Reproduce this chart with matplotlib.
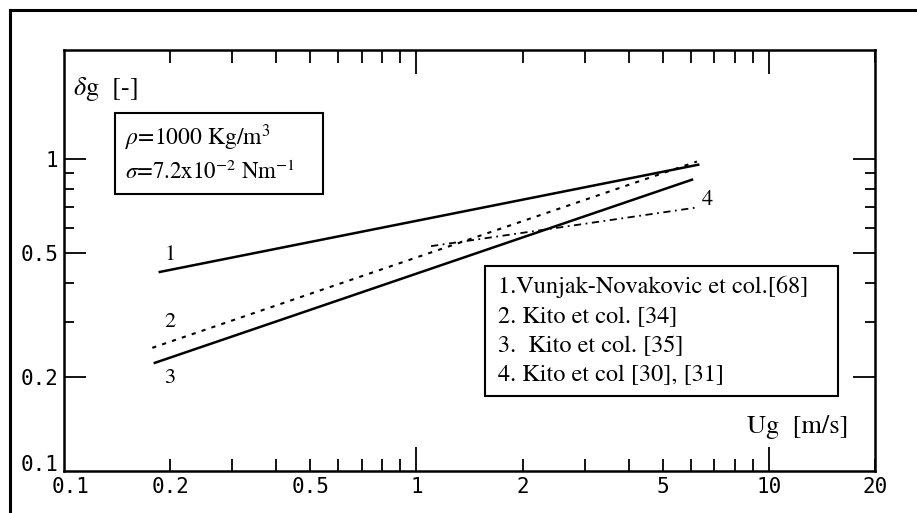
import matplotlib
matplotlib.use("Agg")
import matplotlib.pyplot as plt
from matplotlib.patches import Rectangle
from matplotlib.lines import Line2D
from matplotlib.transforms import ScaledTranslation

plt.rcParams['mathtext.fontset'] = 'stix'

# --- data (log-log, gas holdup vs superficial gas velocity)
ug_1 = [0.187, 6.3]
eg_1 = [0.434, 0.957]
ug_2 = [0.178, 6.25]
eg_2 = [0.248, 0.98]
ug_3 = [0.181, 6.05]
eg_3 = [0.222, 0.857]
ug_4 = [1.1, 6.18]
eg_4 = [0.525, 0.697]

x_ticks = [0.1, 0.2, 0.5, 1, 2, 5, 10, 20]
x_tick_labels = ['0.1', '0.2', '0.5', '1', '2', '5', '10', '20']
x_minor = [0.3, 0.4, 0.6, 0.7, 0.8, 0.9, 3, 4, 6, 7, 8, 9]
y_ticks = [0.1, 0.2, 0.5, 1]
y_tick_labels = ['0.1', '0.2', '0.5', '1']
y_minor = [0.3, 0.4, 0.6, 0.7, 0.8, 0.9]

legend_labels = ['1.Vunjak-Novakovic et col.[68]',
                 '2. Kito et col. [34]',
                 '3.  Kito et col. [35]',
                 '4. Kito et col [30], [31]']

serif = 'STIXGeneral'
mono = 'DejaVu Sans Mono'

fig = plt.figure(figsize=(9.17, 5.13), dpi=100)
ax = fig.add_axes([64 / 917, 1 - 471 / 513, 811 / 917, 421 / 513])
ax.set_xscale('log')
ax.set_yscale('log')
ax.set_xlim(0.1, 20)
ax.set_ylim(0.1, 2.23)

lw = 1.8
ax.plot(ug_1, eg_1, color='black', lw=lw)
ax.plot(ug_2, eg_2, color='black', lw=1.5, ls=(0, (2, 3)))
ax.plot(ug_3, eg_3, color='black', lw=lw)
ax.plot(ug_4, eg_4, color='black', lw=1.3, ls=(0, (4, 2.5, 1, 2.5)))

# curve numbers
for lab, xx, yy in [('1', 0.2, 0.49), ('2', 0.2, 0.30), ('3', 0.2, 0.199), ('4', 6.68, 0.739)]:
    ax.text(xx, yy, lab, fontsize=16, family=serif, ha='center', va='center')

# ticks
ax.set_xticks(x_ticks)
ax.set_xticklabels(x_tick_labels)
ax.set_xticks(x_minor, minor=True)
ax.set_yticks(y_ticks)
ax.set_yticklabels(y_tick_labels)
ax.set_yticks(y_minor, minor=True)
ax.tick_params(axis='both', which='both', direction='in', top=True, right=True,
               width=1.3, labelsize=15, pad=4)
ax.tick_params(axis='x', which='major', length=9)
ax.tick_params(axis='x', which='minor', length=9)
ax.tick_params(axis='y', which='major', length=16)
ax.tick_params(axis='y', which='minor', length=7)
for lab in ax.get_xticklabels() + ax.get_yticklabels():
    lab.set_family(mono)
# longer ticks at decades 1 and 10
for t, v in zip(ax.xaxis.get_major_ticks(), x_ticks):
    if v in (1, 10):
        t.tick1line.set_markersize(17)
        t.tick2line.set_markersize(17)
    if v == 0.1:
        t.tick1line.set_markersize(0)
        t.tick2line.set_markersize(0)
for t, v in zip(ax.yaxis.get_major_ticks(), y_ticks):
    if v == 0.1:
        t.tick1line.set_markersize(0)
        t.tick2line.set_markersize(0)

# keep the two "0.1" labels at the corner apart
xl0 = ax.get_xticklabels()[0]
xl0.set_transform(xl0.get_transform() + ScaledTranslation(7 / 100, 0, fig.dpi_scale_trans))
yl0 = ax.get_yticklabels()[0]
yl0.set_transform(yl0.get_transform() + ScaledTranslation(0, 8 / 100, fig.dpi_scale_trans))

for s in ax.spines.values():
    s.set_linewidth(1.8)

# axis titles placed inside the frame
ax.text(0.011, 0.907, r'$\delta$g  [-]', transform=ax.transAxes, fontsize=19,
        family=serif, ha='left', va='center')
ax.text(0.967, 0.105, 'Ug  [m/s]', transform=ax.transAxes, fontsize=19,
        family=serif, ha='right', va='center')

# property box
ax.add_patch(Rectangle((0.063, 0.658), 0.256, 0.192, transform=ax.transAxes,
                       fill=False, lw=1.5, ec='black'))
ax.text(0.075, 0.791, r'$\rho$=1000 Kg/m$^3$', transform=ax.transAxes,
        fontsize=17, family=serif, ha='left', va='center')
ax.text(0.075, 0.710, r'$\sigma$=7.2x10$^{-2}$ Nm$^{-1}$', transform=ax.transAxes,
        fontsize=16.5, family=serif, ha='left', va='center')

# legend box
ax.add_patch(Rectangle((0.519, 0.178), 0.435, 0.309, transform=ax.transAxes,
                       fill=False, lw=1.5, ec='black'))
row_y = [0.437, 0.365, 0.295, 0.228]
for lab, yy in zip(legend_labels, row_y):
    ax.text(0.535, yy, lab, transform=ax.transAxes, fontsize=17.5, family=serif,
            ha='left', va='center')

# outer frame of the scanned page
fig.add_artist(Line2D([10 / 917, 10 / 917], [0, 1 - 10 / 513], color='black', lw=2.2))
fig.add_artist(Line2D([10 / 917, 1], [1 - 10 / 513, 1 - 10 / 513], color='black', lw=2.2))

fig.savefig('out.png', dpi=100)
